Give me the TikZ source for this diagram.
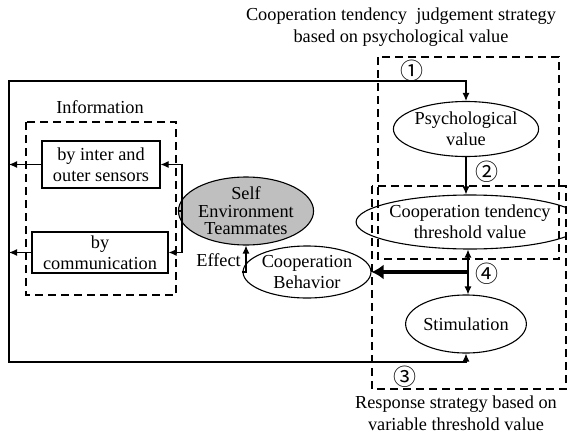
\documentclass[tikz,border=0pt]{standalone}
\usepackage{fontspec}
\setmainfont{Liberation Serif}
\newfontfamily\circfont{Noto Sans CJK SC}
\usetikzlibrary{shapes.geometric,arrows.meta}
\begin{document}
\begin{tikzpicture}[x=1pt,y=-1pt,
  every node/.style={font=\fontsize{18.3}{21}\selectfont},
  ell/.style={draw,ellipse,line width=1.1pt,inner sep=0pt,align=center},
  box/.style={draw,rectangle,line width=1.1pt,inner sep=0pt,align=center},
  dbox/.style={line width=1.1pt,dash pattern=on 8pt off 5pt},
  ln/.style={line width=1.1pt},
  arr/.style={line width=1.1pt,-{Latex[length=8pt,width=7pt]}},
  darr/.style={line width=1.1pt,{Latex[length=8pt,width=7pt]}-{Latex[length=8pt,width=7pt]}},
  bigarr/.style={line width=4.5pt,-{Latex[length=12pt,width=15pt]}},
  lbl/.style={align=center,font=\fontsize{18.3}{22.5}\selectfont},
  circ/.style={font=\circfont\fontsize{23}{23}\selectfont}]
\useasboundingbox (0,0) rectangle (567,434);
% dashed regions
\draw[dbox] (378,57) rectangle (559,259);
\draw[dbox] (372,186) rectangle (566,389);
\draw[dbox] (26,122) rectangle (176,295);
% titles
\node[lbl] (t1) at (401,27) {Cooperation tendency\ \ judgement strategy\\based on psychological value};
\node[lbl] (t2) at (456,413) {Response strategy based on\\variable threshold value};
\node (info) at (100,107) {Information};
% nodes
\node[ell,minimum width=128pt,minimum height=55pt] (psych) at (466,129) {Psychological\\value};
\node[ell,minimum width=184pt,minimum height=54pt] (tend) at (470,222) {Cooperation tendency\\threshold value};
\node[ell,minimum width=114pt,minimum height=58pt] (stim) at (466,324) {Stimulation};
\node[ell,minimum width=112pt,minimum height=52pt] (coopb) at (307,272) {Cooperation\\Behavior};
\node[ell,fill=gray!50,minimum width=116pt,minimum height=63pt,font=\fontsize{18.3}{17.5}\selectfont] (self) at (246,211) {Self\\Environment\\Teammates};
\node[box,minimum width=118pt,minimum height=47pt] (b1) at (101,164.5) {by inter and\\outer sensors};
\node[box,minimum width=136pt,minimum height=41pt] (b2) at (100,252.5) {by\\communication};
% coordinates
\coordinate (lt) at (9,81);
\coordinate (lb) at (9,362);
\coordinate (br) at (182,211);
\coordinate (j) at (468,272);
% connectors
\draw[arr] (lb) -- (lt) -| (psych.north);
\draw[arr] (lt) -- (lb) -| (stim.south);
\draw[arr] (psych.south) -- (psych.south |- tend.north);
\draw[darr] (tend.south -| j) -- (stim.north -| j);
\draw[bigarr] (j) -- (coopb.east);
\draw[arr] (coopb.west) -| (self.south);
\draw[ln] (self.west) -- (br);
\draw[arr] (br) |- (b1.east);
\draw[arr] (br) |- (b2.east);
\draw[arr] (b1.west) -- (b1.west -| lt);
\draw[arr] (b2.west) -- (b2.west -| lt);
% labels
\node[anchor=east,inner sep=1pt] (eff) at (242,260) {Effect};
\node[circ] (c1) at (412,71) {①};
\node[circ] (c2) at (487,172) {②};
\node[circ] (c3) at (405,377) {③};
\node[circ] (c4) at (487,274) {④};
\end{tikzpicture}
\end{document}
